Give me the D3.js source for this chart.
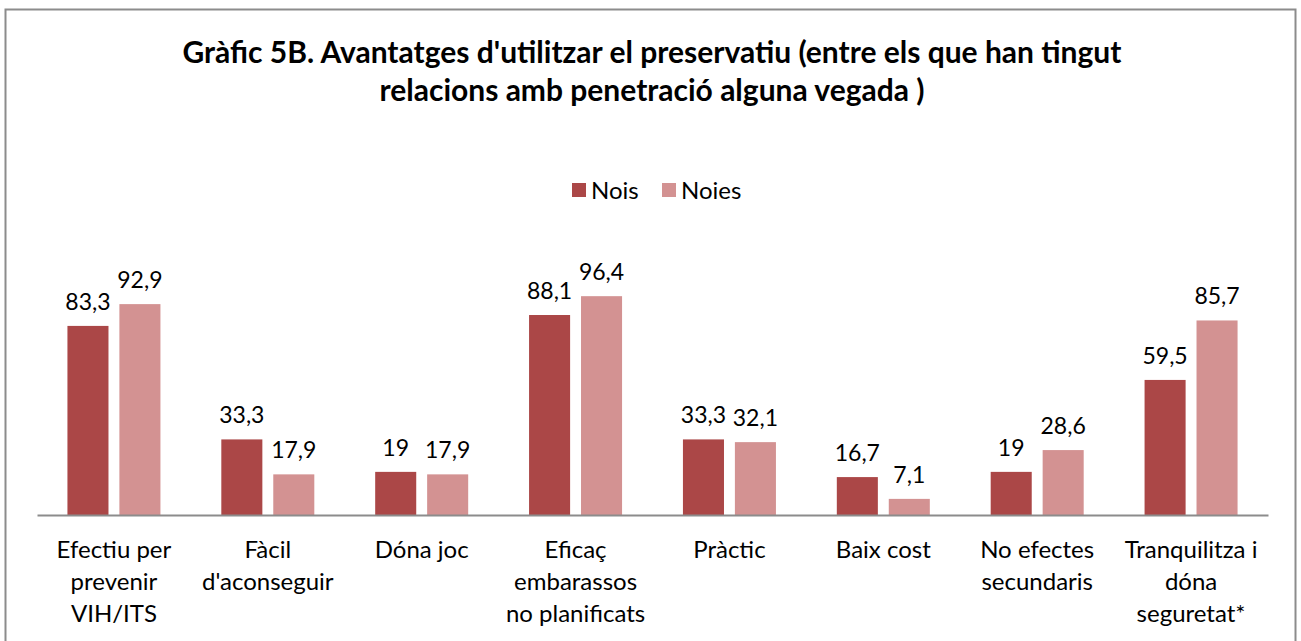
<!DOCTYPE html>
<html><head><meta charset="utf-8">
<script src="https://cdn.jsdelivr.net/npm/d3@7"></script>
<style>
html,body{margin:0;padding:0;background:#fff;}
svg{display:block;font-family:Lato, "Open Sans", sans-serif;}
</style></head>
<body>
<svg id="chart" width="1301" height="641"></svg>
<script>
const categories = [
  ["Efectiu per","prevenir","VIH/ITS"],
  ["Fàcil","d'aconseguir"],
  ["Dóna joc"],
  ["Eficaç","embarassos","no planificats"],
  ["Pràctic"],
  ["Baix cost"],
  ["No efectes","secundaris"],
  ["Tranquilitza i","dóna","seguretat*"]
];
const seriesNames = ["Nois","Noies"];
const nois  = [83.3, 33.3, 19, 88.1, 33.3, 16.7, 19, 59.5];
const noies = [92.9, 17.9, 17.9, 96.4, 32.1, 7.1, 28.6, 85.7];
const titleLines = ["Gràfic 5B. Avantatges d'utilitzar el preservatiu (entre els que han tingut","relacions amb penetració alguna vegada )"];
const colors = ["#AB4747","#D39292"];

const svg = d3.select("#chart");
svg.append("rect").attr("x",5.5).attr("y",9.5).attr("width",1290).attr("height",640)
  .attr("fill","#fff").attr("stroke","#8c8c8c").attr("stroke-width",2);

svg.append("g").selectAll("text").data(titleLines).join("text")
  .attr("x",652).attr("y",(d,i)=>63+i*38).attr("text-anchor","middle")
  .attr("font-size",30).attr("font-weight","bold").attr("fill","#000").text(d=>d);

const x0 = d3.scaleBand().domain(d3.range(categories.length)).range([37,1268]).padding(0);
const half = 46.5;
const x1 = d3.scaleBand().domain(seriesNames).range([x0.bandwidth()/2-half, x0.bandwidth()/2+half]).paddingInner(0.21);
const y = d3.scaleLinear().domain([0,100]).range([515,288]);

const data = categories.map((c,i)=>({i, vals:[nois[i], noies[i]]}));
const g = svg.append("g");
const groups = g.selectAll("g").data(data).join("g").attr("transform",d=>`translate(${x0(d.i)},0)`);
groups.selectAll("rect").data(d=>d.vals.map((v,k)=>({v,k}))).join("rect")
  .attr("x",d=>x1(seriesNames[d.k])).attr("width",x1.bandwidth())
  .attr("y",d=>y(d.v)).attr("height",d=>y(0)-y(d.v)).attr("fill",d=>colors[d.k]);
groups.selectAll("text.val").data(d=>d.vals.map((v,k)=>({v,k}))).join("text").attr("class","val")
  .attr("x",d=>x1(seriesNames[d.k])+x1.bandwidth()/2).attr("y",d=>y(d.v)-16)
  .attr("text-anchor","middle").attr("font-size",23).attr("fill","#000")
  .text(d=>String(d.v).replace(".",","));

// axis
const axis = d3.axisBottom(x0).tickSize(0).tickFormat("");
const ax = svg.append("g").attr("transform","translate(0,515)").call(axis);
ax.select(".domain").attr("stroke","#8c8c8c").attr("stroke-width",2);

svg.append("g").selectAll("text").data(categories).join("text")
  .attr("x",(d,i)=>x0(i)+x0.bandwidth()/2).attr("y",558).attr("text-anchor","middle")
  .attr("font-size",24).attr("fill","#000")
  .each(function(d){
    d3.select(this).selectAll("tspan").data(d).join("tspan")
      .attr("x",d3.select(this).attr("x")).attr("dy",(t,j)=>j===0?0:32).text(t=>t);
  });

// legend
const leg = svg.append("g");
const legX = [572, 662];
seriesNames.forEach((s,k)=>{
  leg.append("rect").attr("x",legX[k]).attr("y",183).attr("width",14).attr("height",14).attr("fill",colors[k]);
  leg.append("text").attr("x",legX[k]+19).attr("y",199).attr("font-size",24).attr("fill","#000").text(s);
});
</script>
</body></html>
